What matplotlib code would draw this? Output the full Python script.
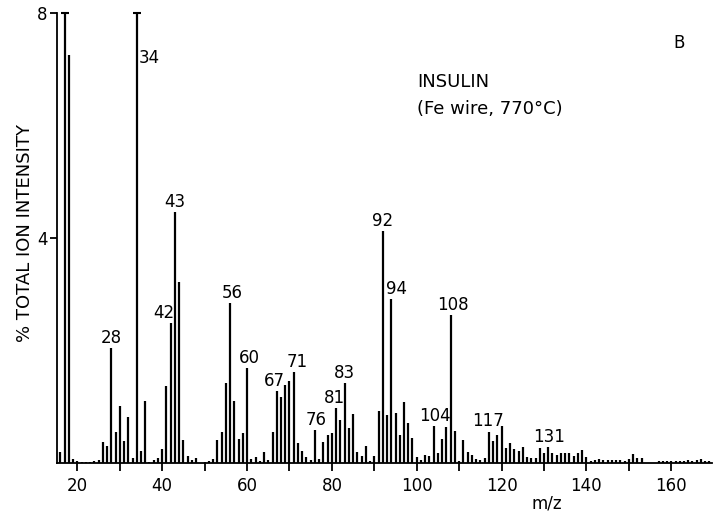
import numpy as np
import matplotlib
matplotlib.use("Agg")
import matplotlib.pyplot as plt

# ---------------- data ----------------
mz = list(range(16, 170))
intensity = [
    0.20, 8.00, 7.25, 0.07, 0.03, 0.02, 0.02, 0.02, 0.03, 0.05,   # 16-25
    0.37, 0.30, 2.05, 0.55, 1.02, 0.39, 0.81, 0.09, 8.00, 0.22,   # 26-35
    1.10, 0.02, 0.05, 0.09, 0.25, 1.37, 2.49, 4.47, 3.22, 0.41,   # 36-45
    0.12, 0.06, 0.09, 0.00, 0.02, 0.04, 0.08, 0.41, 0.56, 1.43,   # 46-55
    2.84, 1.10, 0.42, 0.53, 1.69, 0.08, 0.11, 0.03, 0.20, 0.06,   # 56-65
    0.56, 1.28, 1.17, 1.38, 1.45, 1.61, 0.36, 0.22, 0.11, 0.06,   # 66-75
    0.59, 0.07, 0.38, 0.50, 0.54, 0.97, 0.76, 1.43, 0.63, 0.87,   # 76-85
    0.20, 0.13, 0.30, 0.03, 0.12, 0.92, 4.12, 0.86, 2.92, 0.89,   # 86-95
    0.50, 1.09, 0.72, 0.44, 0.10, 0.05, 0.14, 0.13, 0.66, 0.17,   # 96-105
    0.43, 0.64, 2.63, 0.57, 0.04, 0.41, 0.19, 0.15, 0.07, 0.06,   # 106-115
    0.09, 0.56, 0.40, 0.50, 0.65, 0.27, 0.36, 0.25, 0.22, 0.29,   # 116-125
    0.10, 0.09, 0.09, 0.26, 0.18, 0.28, 0.18, 0.15, 0.17, 0.18,   # 126-135
    0.17, 0.12, 0.18, 0.23, 0.10, 0.04, 0.05, 0.07, 0.05, 0.06,   # 136-145
    0.06, 0.05, 0.05, 0.04, 0.08, 0.16, 0.09, 0.09, 0.00, 0.00,   # 146-155
    0.00, 0.03, 0.03, 0.04, 0.03, 0.04, 0.03, 0.03, 0.05, 0.04,   # 156-165
    0.05, 0.07, 0.04, 0.03,                                        # 166-169
]
offscale_peaks = [17, 34]

labeled_peaks = [28, 34, 42, 43, 56, 60, 67, 71, 76, 81, 83, 92, 94, 104, 108, 117, 131]
label_dx_px = [0, 0, -7, 0, 2, 2, -2, 3, 1, -2, 0, 0, 5, 1, 2, -1, 1]

x_ticks = list(range(20, 170, 10))
x_ticklabels = [str(t) if t % 20 == 0 else "" for t in x_ticks]
y_ticks = [4, 8]

# ---------------- figure ----------------
W, H = 713, 513
fig = plt.figure(figsize=(W / 100, H / 100), dpi=100)
ax = fig.add_axes([57 / W, 1 - 463 / H, (712 - 57) / W, (463 - 13) / H])

FONT = "DejaVu Sans"
ax.vlines(mz, 0, intensity, colors="black", linewidth=1.6)

# caps on off-scale peaks
for p in offscale_peaks:
    ax.plot([p], [8.0], marker="_", markersize=6, markeredgewidth=1.5,
            color="black", clip_on=False)

ax.set_xlim(15.2, 169.6)
ax.set_ylim(0, 8)

for s in ["top", "right"]:
    ax.spines[s].set_visible(False)
for s in ["left", "bottom"]:
    ax.spines[s].set_linewidth(1.3)

ax.set_xticks(x_ticks)
ax.set_xticklabels(x_ticklabels, fontsize=12, family=FONT)
ax.set_yticks(y_ticks)
ax.set_yticklabels([str(t) for t in y_ticks], fontsize=12, family=FONT)
ax.tick_params(axis="x", direction="out", length=6, width=1.3, pad=4)
ax.tick_params(axis="y", direction="out", length=5, width=1.3, pad=2)

ax.set_ylabel("% TOTAL ION INTENSITY", fontsize=13, family=FONT)
ax.yaxis.set_label_coords(-0.035, 0.51)

fig.text(547 / W, 1 - 503 / H, "m/z", fontsize=12, family=FONT,
         ha="center", va="center")

# peak labels
vals = dict(zip(mz, intensity))
for p, dx in zip(labeled_peaks, label_dx_px):
    if p in offscale_peaks:
        ax.annotate(str(p), xy=(p, 7.2), xytext=(2, 0), textcoords="offset pixels",
                    ha="left", va="center", fontsize=12, family=FONT)
    else:
        ax.annotate(str(p), xy=(p, vals[p]), xytext=(dx, 5), textcoords="offset pixels",
                    ha="center", va="baseline", fontsize=12, family=FONT)

fig.text(679 / W, 1 - 43 / H, "B", fontsize=12, family=FONT, ha="center", va="center")
fig.text(417 / W, 1 - 82 / H, "INSULIN", fontsize=13, family=FONT, ha="left", va="center")
fig.text(417 / W, 1 - 109 / H, "(Fe wire, 770°C)", fontsize=13, family=FONT,
         ha="left", va="center")

fig.savefig("out.png", dpi=100)
